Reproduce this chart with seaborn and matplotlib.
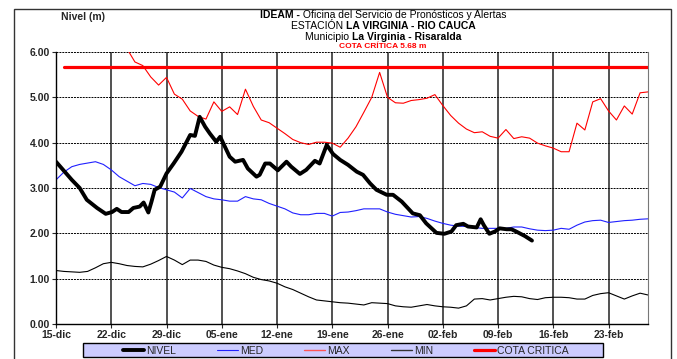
import numpy as np
import pandas as pd
import matplotlib
matplotlib.use("Agg")
import matplotlib.pyplot as plt
import seaborn as sns
from matplotlib.lines import Line2D
from matplotlib.patches import Rectangle

# ---- datos (dias desde el 15-dic) ----
etiquetas_x = ["15-dic", "22-dic", "29-dic", "05-ene", "12-ene", "19-ene",
               "26-ene", "02-feb", "09-feb", "16-feb", "23-feb"]

dias = list(range(76))

med = [3.18, 3.35, 3.47, 3.52, 3.55, 3.58, 3.52, 3.40, 3.25, 3.15,
       3.05, 3.10, 3.08, 3.01, 2.96, 2.91, 2.78, 2.99, 2.90, 2.81,
       2.76, 2.74, 2.71, 2.71, 2.81, 2.76, 2.74, 2.66, 2.60, 2.54,
       2.45, 2.41, 2.41, 2.44, 2.44, 2.38, 2.46, 2.47, 2.50, 2.54,
       2.54, 2.54, 2.47, 2.42, 2.39, 2.36, 2.37, 2.33, 2.27, 2.22,
       2.18, 2.16, 2.15, 2.13, 2.11, 2.11, 2.11, 2.11, 2.14, 2.14,
       2.10, 2.07, 2.06, 2.07, 2.11, 2.09, 2.18, 2.25, 2.28, 2.29,
       2.24, 2.26, 2.28, 2.29, 2.31, 2.32]

maxi = [7.20, 7.00, 6.90, 6.80, 6.70, 6.60, 6.50, 6.40, 6.22, 6.07,
        5.78, 5.70, 5.45, 5.27, 5.44, 5.07, 4.96, 4.70, 4.58, 4.52,
        4.90, 4.69, 4.79, 4.62, 5.18, 4.80, 4.50, 4.44, 4.32, 4.20,
        4.07, 4.00, 3.96, 4.01, 4.01, 3.99, 3.90, 4.10, 4.35, 4.67,
        5.00, 5.55, 5.00, 4.88, 4.87, 4.93, 4.95, 4.98, 5.06, 4.82,
        4.60, 4.43, 4.30, 4.22, 4.24, 4.14, 4.10, 4.29, 4.09, 4.13,
        4.10, 3.99, 3.93, 3.88, 3.80, 3.80, 4.43, 4.28, 4.90, 4.97,
        4.70, 4.50, 4.81, 4.63, 5.10, 5.12]

mini = [1.18, 1.16, 1.15, 1.14, 1.16, 1.24, 1.33, 1.36, 1.33, 1.29,
        1.27, 1.26, 1.32, 1.40, 1.49, 1.41, 1.31, 1.41, 1.41, 1.38,
        1.30, 1.25, 1.22, 1.17, 1.11, 1.03, 0.98, 0.95, 0.90, 0.82,
        0.76, 0.68, 0.60, 0.53, 0.51, 0.49, 0.47, 0.46, 0.44, 0.42,
        0.47, 0.46, 0.45, 0.40, 0.38, 0.37, 0.40, 0.43, 0.40, 0.38,
        0.37, 0.35, 0.40, 0.55, 0.56, 0.53, 0.56, 0.59, 0.61, 0.60,
        0.56, 0.54, 0.58, 0.59, 0.59, 0.58, 0.55, 0.55, 0.63, 0.67,
        0.69, 0.62, 0.55, 0.62, 0.68, 0.64]

nivel_dias = [0.0, 0.9, 2.0, 3.0, 3.9, 5.2, 6.3, 7.1, 7.7, 8.3,
              9.2, 9.8, 10.6, 11.1, 11.7, 12.1, 12.5, 13.2, 14.0, 14.9,
              15.9, 17.0, 17.6, 18.2, 18.9, 19.5, 20.3, 20.8, 21.4, 22.0,
              22.7, 23.7, 24.3, 25.4, 25.8, 26.5, 27.1, 28.1, 29.2, 29.8,
              30.9, 31.7, 32.8, 33.4, 34.3, 35.1, 36.0, 37.0, 38.1, 38.9,
              39.8, 40.6, 41.9, 42.7, 43.8, 45.2, 46.1, 46.9, 48.2, 49.2,
              50.1, 50.7, 51.6, 52.2, 53.3, 53.8, 54.2, 54.9, 55.6, 56.2,
              57.1, 57.7, 58.3, 59.4, 60.3]
nivel = [3.58, 3.40, 3.18, 3.00, 2.74, 2.56, 2.43, 2.47, 2.54, 2.47,
         2.47, 2.56, 2.59, 2.68, 2.46, 2.70, 2.96, 3.03, 3.32, 3.54,
         3.80, 4.17, 4.15, 4.57, 4.35, 4.20, 4.02, 4.13, 3.91, 3.69,
         3.58, 3.62, 3.43, 3.25, 3.29, 3.54, 3.54, 3.39, 3.58, 3.47,
         3.31, 3.40, 3.60, 3.54, 3.95, 3.75, 3.62, 3.51, 3.36, 3.29,
         3.10, 2.96, 2.85, 2.85, 2.70, 2.44, 2.40, 2.22, 2.01, 1.99,
         2.04, 2.18, 2.21, 2.15, 2.13, 2.31, 2.18, 1.99, 2.04, 2.11,
         2.09, 2.09, 2.04, 1.94, 1.84]

cota = 5.68

# ---- figura ----
sns.set_style("white")
plt.rcParams["font.family"] = ["Liberation Sans", "DejaVu Sans"]

fig = plt.figure(figsize=(6.77, 3.59), dpi=100)
ax = fig.add_axes([56 / 677, 1 - 324 / 359, 592 / 677, 272 / 359])

df = pd.DataFrame({"dia": dias, "MED": med, "MAX": maxi, "MIN": mini})
sns.lineplot(data=df, x="dia", y="MED", ax=ax, color="#2020ff", lw=0.8)
sns.lineplot(data=df, x="dia", y="MAX", ax=ax, color="#ff0000", lw=0.8)
sns.lineplot(data=df, x="dia", y="MIN", ax=ax, color="black", lw=0.8)
sns.lineplot(x=nivel_dias, y=nivel, ax=ax, color="black", lw=2.8)
sns.lineplot(x=dias[1:], y=[cota] * len(dias[1:]), ax=ax, color="#ff0000", lw=2.3)

ax.set_xlim(0, 75)
ax.set_ylim(0, 6)
ax.set_xticks(range(0, 71, 7))
ax.set_xticklabels(etiquetas_x)
ax.set_yticks(np.arange(0, 6.01, 1))
ax.set_yticklabels([f"{v:.2f}" for v in np.arange(0, 6.01, 1)])
for lab in ax.get_xticklabels() + ax.get_yticklabels():
    lab.set_fontweight("bold")
    lab.set_fontsize(7.5)
ax.tick_params(axis="both", length=3, width=0.8, pad=1.5, direction="out",
               bottom=True, left=True)
ax.set_xlabel("")
ax.set_ylabel("")

for v in range(7, 71, 7):
    ax.axvline(v, color="#222222", lw=1.1, zorder=0)
for v in range(1, 7):
    ax.axhline(v, color="black", lw=0.7, ls=(0, (2, 1)), zorder=0, clip_on=False)
ax.spines["top"].set_visible(False)
ax.spines["right"].set_color("#777777")
ax.spines["left"].set_color("black")
ax.spines["bottom"].set_color("black")
ax.spines["left"].set_linewidth(1.0)
ax.spines["bottom"].set_linewidth(1.0)

# marco exterior
fig.patches.append(Rectangle((14 / 677, -0.05), 657 / 677, 1.05 - 9 / 359,
                             transform=fig.transFigure, fill=False,
                             edgecolor="#333333", lw=1.0))

# titulo con partes en negrita
renderer = fig.canvas.get_renderer()


def linea(y, partes, size=7.5, xc=383 / 677):
    objs = []
    total = 0
    for texto, peso, color in partes:
        t = fig.text(0, y, texto, fontsize=size, fontweight=peso, color=color,
                     ha="left", va="center")
        w = t.get_window_extent(renderer).width / fig.bbox.width
        objs.append((t, w))
        total += w
    x = xc - total / 2
    for t, w in objs:
        t.set_x(x)
        x += w


linea(1 - 15 / 359, [("IDEAM -", "bold", "black"),
                     (" Oficina del Servicio de Pronósticos y Alertas", "normal", "black")])
linea(1 - 26 / 359, [("ESTACIÓN ", "normal", "black"),
                     ("LA VIRGINIA - RIO CAUCA", "bold", "black")])
linea(1 - 37 / 359, [("Municipio ", "normal", "black"),
                     ("La Virginia - Risaralda", "bold", "black")])
linea(1 - 47 / 359, [("COTA CRÍTICA 5.68 m", "bold", "#ff0000")], size=6)

fig.text(83 / 677, 1 - 17 / 359, "Nivel (m)", fontsize=7.5, fontweight="bold",
         ha="center", va="center")

# leyenda: caja lavanda y entradas dentro
fig.patches.append(Rectangle((83 / 677, 2 / 359), 520 / 677, 14 / 359,
                             transform=fig.transFigure, facecolor="#ccccff",
                             edgecolor="black", lw=1.0, zorder=5))
handles = [Line2D([], [], color="black", lw=2.8),
           Line2D([], [], color="#2020ff", lw=0.8),
           Line2D([], [], color="#ff5555", lw=1.0),
           Line2D([], [], color="#333333", lw=1.0),
           Line2D([], [], color="#ff0000", lw=2.3)]
labels = ["NIVEL", "MED", "MAX", "MIN", "COTA CRITICA"]
leg = fig.legend(handles, labels, ncol=5, loc="lower left",
                 bbox_to_anchor=(122 / 677, 2 / 359, 448 / 677, 14 / 359),
                 mode="expand", fontsize=7.5, frameon=False,
                 handlelength=2.0, handletextpad=0.2, borderpad=0.1,
                 borderaxespad=0)
leg.set_zorder(6)

fig.savefig("out.png", dpi=100)
